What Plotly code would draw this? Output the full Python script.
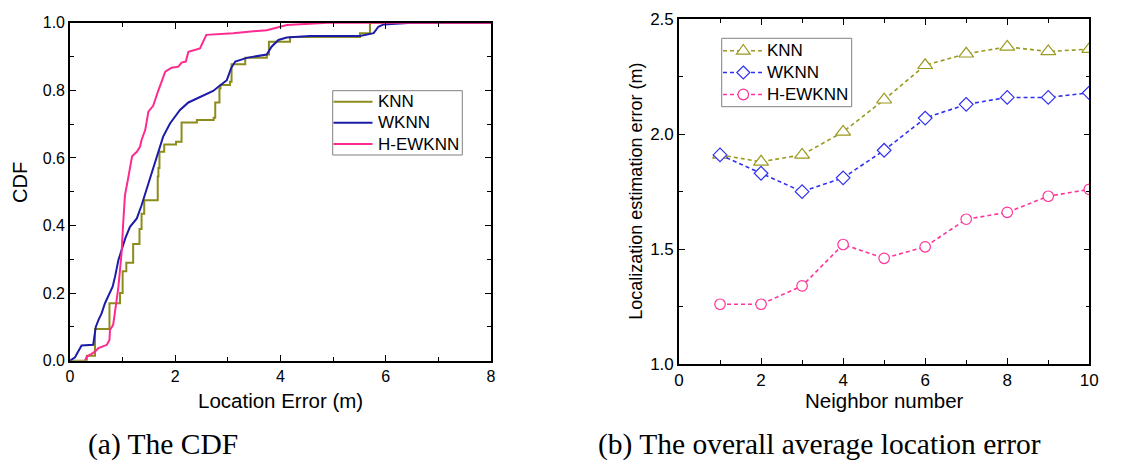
import plotly.graph_objects as go

W, H = 1126, 462

# ---- (a) CDF of the location error ----
knn_cdf_x = [0.0, 0.32, 0.475, 0.75, 0.95, 1.00, 1.07, 1.20, 1.32, 1.36, 1.41, 1.667, 1.68,
             1.70, 1.79, 2.015, 2.12, 2.41, 2.73, 2.76, 2.84, 2.86, 3.04, 3.07, 3.33, 3.74,
             3.78, 4.18, 5.51, 5.70, 8.0]
knn_cdf_y = [0.0, 0.015, 0.094, 0.17, 0.20, 0.265, 0.29, 0.345, 0.39, 0.435, 0.475, 0.545, 0.57,
             0.618, 0.64, 0.648, 0.705, 0.712, 0.719, 0.764, 0.805, 0.816, 0.825, 0.877, 0.896, 0.906,
             0.944, 0.958, 0.969, 1.0, 1.0]

wknn_cdf_x = [0.0, 0.095, 0.19, 0.22, 0.44, 0.49, 0.54, 0.60, 0.665, 0.73, 0.81, 0.855, 0.92,
              0.98, 1.05, 1.14, 1.27, 1.36, 1.43, 1.52, 1.58, 1.71, 1.77, 1.90, 2.09, 2.25, 2.47,
              2.72, 2.85, 2.98, 3.06, 3.14, 3.36, 3.74, 3.83, 3.96, 4.12, 4.56, 5.51, 5.77, 5.86,
              5.96, 6.5, 8.0]
wknn_cdf_y = [0.0, 0.01, 0.037, 0.045, 0.047, 0.10, 0.12, 0.14, 0.17, 0.194, 0.219, 0.248, 0.298,
              0.327, 0.362, 0.396, 0.421, 0.46, 0.495, 0.535, 0.569, 0.628, 0.663, 0.702, 0.742, 0.764,
              0.781, 0.798, 0.814, 0.830, 0.865, 0.885, 0.896, 0.906, 0.929, 0.949, 0.956, 0.961, 0.961,
              0.969, 0.988, 0.995, 1.0, 1.0]

hewknn_cdf_x = [0.285, 0.32, 0.41, 0.475, 0.54, 0.70, 0.75, 0.76, 0.82, 0.855, 0.887, 0.92, 0.95,
                0.98, 1.01, 1.045, 1.11, 1.18, 1.27, 1.33, 1.36, 1.43, 1.49, 1.58, 1.68, 1.74, 1.81,
                1.93, 2.06, 2.12, 2.20, 2.25, 2.47, 2.59, 3.10, 3.74, 3.99, 4.12, 4.9, 8.0]
hewknn_cdf_y = [0.0, 0.012, 0.02, 0.027, 0.037, 0.047, 0.061, 0.091, 0.106, 0.14, 0.18, 0.219, 0.259,
                0.318, 0.406, 0.49, 0.544, 0.605, 0.618, 0.633, 0.653, 0.683, 0.737, 0.754, 0.80, 0.825,
                0.855, 0.867, 0.87, 0.882, 0.885, 0.914, 0.924, 0.964, 0.969, 0.978, 0.988, 0.993, 1.0, 1.0]

# ---- (b) average error versus neighbour count ----
neighbors = [1, 2, 3, 4, 5, 6, 7, 8, 9, 10]
knn_err = [1.91, 1.88, 1.91, 2.01, 2.15, 2.30, 2.35, 2.38, 2.36, 2.37]
wknn_err = [1.91, 1.83, 1.75, 1.81, 1.93, 2.07, 2.13, 2.16, 2.16, 2.18]
hewknn_err = [1.26, 1.26, 1.34, 1.52, 1.46, 1.51, 1.63, 1.66, 1.73, 1.76]

series_names = ["KNN", "WKNN", "H-EWKNN"]
cdf_colors = ["#8c8c1c", "#1c1ca8", "#ff2a8f"]
err_colors = ["#9a9a1e", "#3030f0", "#ff3399"]
err_symbols = ["triangle-up", "diamond", "circle"]
err_sizes = [13, 10.5, 10.5]
DASH = "4px,3px"

SANS = "Liberation Sans, Arial, sans-serif"
SERIF = "Liberation Serif, Times New Roman, serif"


def px_x(p):
    return p / W


def px_y(p):
    return 1 - p / H


fig = go.Figure()

cdf_x = [knn_cdf_x, wknn_cdf_x, hewknn_cdf_x]
cdf_y = [knn_cdf_y, wknn_cdf_y, hewknn_cdf_y]
shapes_kind = ["hv", "linear", "linear"]
for name, xs, ys, col, shp in zip(series_names, cdf_x, cdf_y, cdf_colors, shapes_kind):
    fig.add_trace(go.Scatter(
        x=xs, y=ys, name=name, mode="lines", showlegend=False,
        line=dict(color=col, width=2, shape=shp),
        xaxis="x", yaxis="y",
    ))

errs = [knn_err, wknn_err, hewknn_err]
for name, ys, col, sym, sz in zip(series_names, errs, err_colors, err_symbols, err_sizes):
    fig.add_trace(go.Scatter(
        x=neighbors, y=ys, name=name, mode="lines+markers", showlegend=False,
        line=dict(color=col, width=1.6, dash=DASH),
        marker=dict(symbol=sym, size=sz, color="white", line=dict(color=col, width=1.2)),
        xaxis="x2", yaxis="y2",
    ))

axis_common = dict(
    showline=True, linecolor="black", linewidth=1.6, mirror="ticks",
    ticks="inside", ticklen=6, tickwidth=1.3, tickcolor="black",
    showgrid=False, zeroline=False,
)

fig.update_layout(
    width=W, height=H, autosize=False,
    margin=dict(l=0, r=0, t=0, b=0, pad=0, autoexpand=False),
    paper_bgcolor="white", plot_bgcolor="white",
    showlegend=False,
    xaxis=dict(axis_common, domain=[px_x(70), px_x(491)], range=[0, 8], dtick=2,
               minor=dict(ticks="inside", dtick=1, ticklen=4, tickcolor="black"),
               tickfont=dict(family=SANS, size=16, color="black"), anchor="y"),
    yaxis=dict(axis_common, domain=[px_y(360.7), px_y(22.7)], range=[0, 1], dtick=0.2,
               tickformat=".1f",
               minor=dict(ticks="inside", dtick=0.1, ticklen=4, tickcolor="black"),
               tickfont=dict(family=SANS, size=16, color="black"), anchor="x"),
    xaxis2=dict(axis_common, domain=[px_x(679), px_x(1089.3)], range=[0, 10], dtick=2,
                minor=dict(ticks="inside", dtick=1, ticklen=4, tickcolor="black"),
                tickfont=dict(family=SANS, size=17, color="black"), anchor="y2"),
    yaxis2=dict(axis_common, domain=[px_y(364), px_y(19.3)], range=[1.0, 2.5], dtick=0.5,
                tickformat=".1f",
                minor=dict(ticks="inside", dtick=0.25, ticklen=4, tickcolor="black"),
                tickfont=dict(family=SANS, size=17, color="black"), anchor="x2"),
)


# ---- legend boxes, drawn as paper-referenced shapes and labels ----
def legend_box(x0, y0, x1, y1):
    fig.add_shape(type="rect", xref="paper", yref="paper",
                  x0=px_x(x0), x1=px_x(x1), y0=px_y(y1), y1=px_y(y0),
                  line=dict(color="#808080", width=1), fillcolor="white", layer="above")


def legend_line(xa, xb, y, color, width, dash="solid"):
    fig.add_shape(type="line", xref="paper", yref="paper",
                  x0=px_x(xa), x1=px_x(xb), y0=px_y(y), y1=px_y(y),
                  line=dict(color=color, width=width, dash=dash), layer="above")


def poly_path(pts):
    return "M " + " L ".join(f"{px_x(a):.6f},{px_y(b):.6f}" for a, b in pts) + " Z"


def legend_marker(symbol, cx, cy, color):
    style = dict(xref="paper", yref="paper", line=dict(color=color, width=1.2),
                 fillcolor="white", layer="above")
    if symbol == "triangle-up":
        fig.add_shape(type="path", path=poly_path(
            [(cx - 6.9, cy + 3.4), (cx + 6.9, cy + 3.4), (cx, cy - 6.2)]), **style)
    elif symbol == "diamond":
        fig.add_shape(type="path", path=poly_path(
            [(cx, cy - 6.5), (cx + 6.5, cy), (cx, cy + 6.5), (cx - 6.5, cy)]), **style)
    else:
        fig.add_shape(type="circle", x0=px_x(cx - 5.3), x1=px_x(cx + 5.3),
                      y0=px_y(cy + 5.3), y1=px_y(cy - 5.3), **style)


def legend_label(text, x, y):
    fig.add_annotation(text=text, xref="paper", yref="paper", x=px_x(x), y=px_y(y),
                       xanchor="left", yanchor="middle", showarrow=False,
                       font=dict(family=SANS, size=17, color="black"))


# (a) legend
legend_box(332.7, 90.7, 462.3, 155.0)
for name, col, yy in zip(series_names, cdf_colors, [101.7, 122.7, 144.0]):
    legend_line(333.5, 372.5, yy, col, 2)
    legend_label(name, 375.5, yy)

# (b) legend
legend_box(721.7, 38.3, 851.7, 106.7)
for name, col, sym, yy in zip(series_names, err_colors, err_symbols, [50.7, 72.5, 94.5]):
    legend_line(723.0, 763.5, yy, col, 1.6, DASH)
    legend_marker(sym, 743.3, yy, col)
    legend_label(name, 764.5, yy)

annots = [
    dict(text="CDF", x=px_x(20), y=px_y(183), textangle=-90,
         font=dict(family=SANS, size=20, color="black")),
    dict(text="Location Error (m)", x=px_x(280), y=px_y(400),
         font=dict(family=SANS, size=20.5, color="black")),
    dict(text="Localization estimation error (m)", x=px_x(636), y=px_y(191.7), textangle=-90,
         font=dict(family=SANS, size=18, color="black")),
    dict(text="Neighbor number", x=px_x(885), y=px_y(400),
         font=dict(family=SANS, size=20.5, color="black")),
    dict(text="(a) The CDF", x=px_x(86), y=px_y(444), xanchor="left",
         font=dict(family=SERIF, size=29.5, color="black")),
    dict(text="(b) The overall average location error", x=px_x(596), y=px_y(444), xanchor="left",
         font=dict(family=SERIF, size=29.5, color="black")),
]
for a in annots:
    a.setdefault("xanchor", "center")
    fig.add_annotation(xref="paper", yref="paper", showarrow=False, yanchor="middle", **a)

fig.write_html("out.html")
